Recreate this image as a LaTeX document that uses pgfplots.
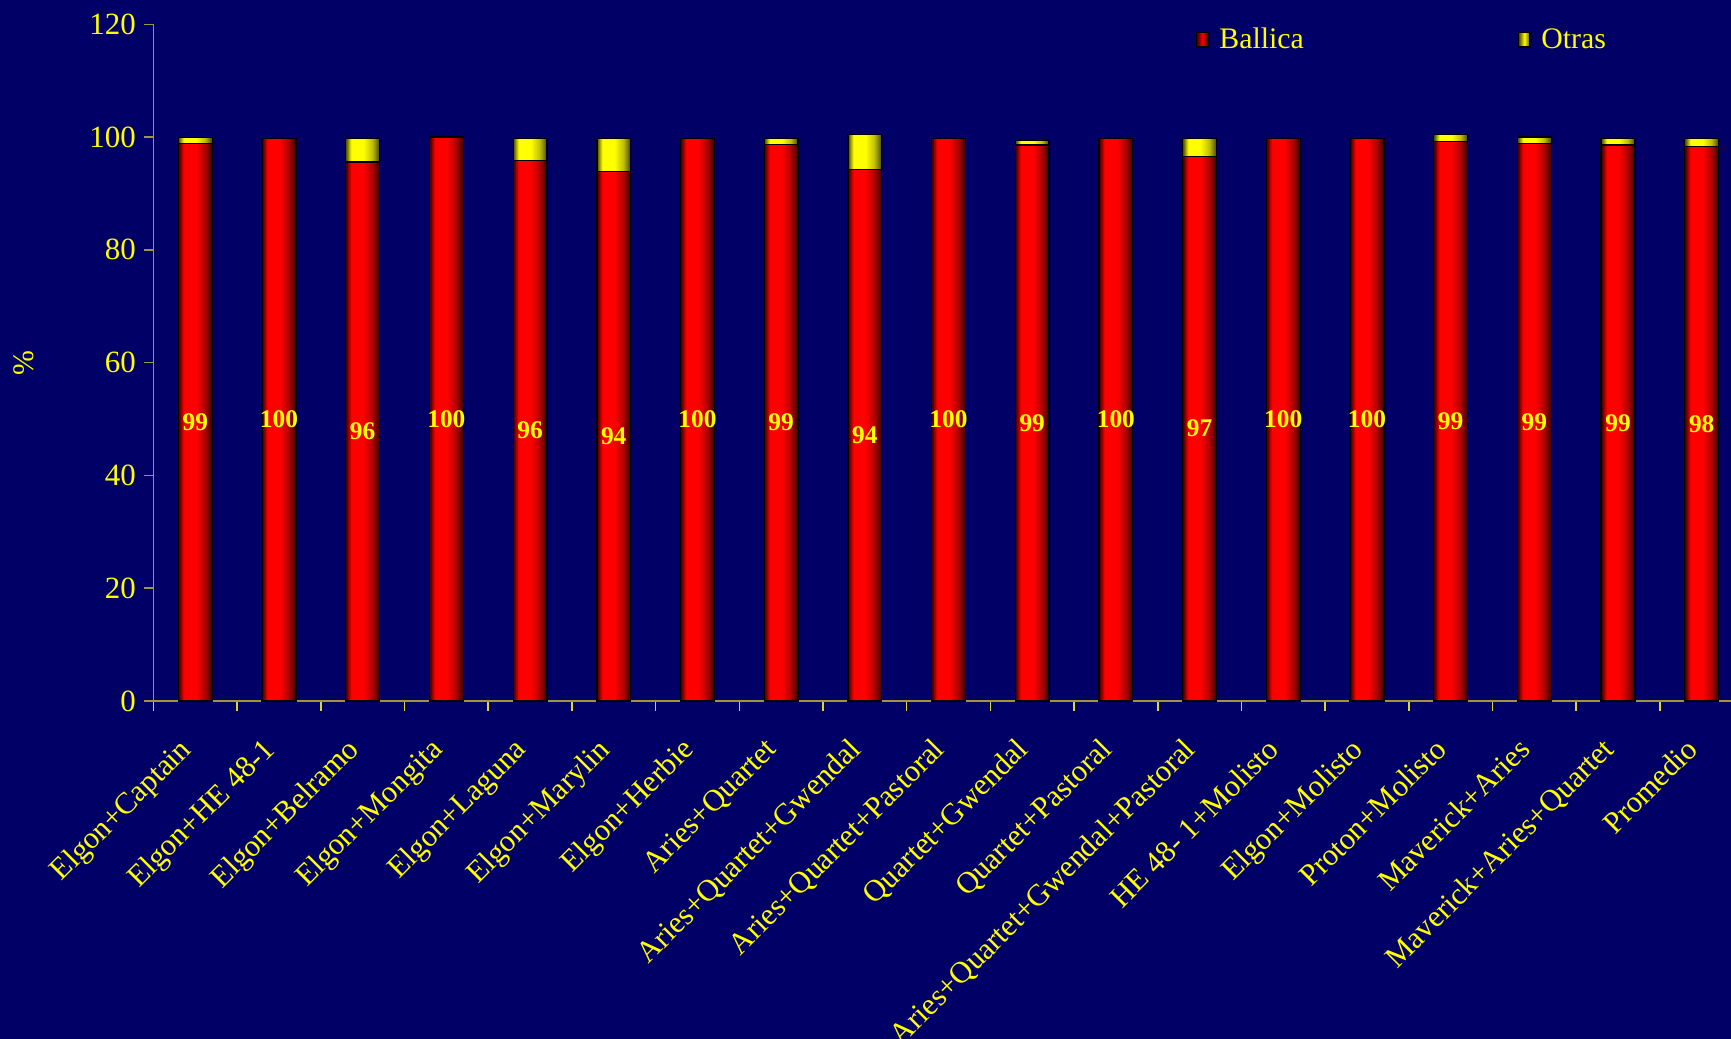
\documentclass[border=0pt]{standalone}
\usepackage{pgfplots}
\pgfplotsset{compat=1.18}
\usepackage{pgfplotstable}
\usepackage{fontspec}
\setmainfont{Liberation Serif}
\definecolor{bgnavy}{RGB}{0,0,102}
\definecolor{ylw}{RGB}{255,255,0}
\definecolor{axiscol}{RGB}{160,150,60}
\definecolor{xtickcol}{RGB}{220,215,40}
\definecolor{rdark}{RGB}{55,0,0}
\definecolor{rmid}{RGB}{175,0,0}
\definecolor{ydark}{RGB}{70,70,0}
\definecolor{ymid}{RGB}{190,190,0}
\pgfdeclarehorizontalshading{redbar}{100bp}{%
color(0bp)=(rdark);
color(25.0000bp)=(rdark); color(25.1792bp)=(red); color(25.5734bp)=(red); color(25.8601bp)=(rmid); color(26.0967bp)=(rdark);
color(27.7169bp)=(rdark); color(27.8961bp)=(red); color(28.2903bp)=(red); color(28.5770bp)=(rmid); color(28.8136bp)=(rdark);
color(30.4338bp)=(rdark); color(30.6130bp)=(red); color(31.0072bp)=(red); color(31.2939bp)=(rmid); color(31.5305bp)=(rdark);
color(33.1506bp)=(rdark); color(33.3298bp)=(red); color(33.7240bp)=(red); color(34.0107bp)=(rmid); color(34.2473bp)=(rdark);
color(35.8675bp)=(rdark); color(36.0467bp)=(red); color(36.4409bp)=(red); color(36.7276bp)=(rmid); color(36.9642bp)=(rdark);
color(38.5844bp)=(rdark); color(38.7636bp)=(red); color(39.1578bp)=(red); color(39.4445bp)=(rmid); color(39.6811bp)=(rdark);
color(41.3013bp)=(rdark); color(41.4805bp)=(red); color(41.8747bp)=(red); color(42.1614bp)=(rmid); color(42.3980bp)=(rdark);
color(44.0182bp)=(rdark); color(44.1974bp)=(red); color(44.5916bp)=(red); color(44.8783bp)=(rmid); color(45.1149bp)=(rdark);
color(46.7350bp)=(rdark); color(46.9142bp)=(red); color(47.3084bp)=(red); color(47.5951bp)=(rmid); color(47.8317bp)=(rdark);
color(49.4519bp)=(rdark); color(49.6311bp)=(red); color(50.0253bp)=(red); color(50.3120bp)=(rmid); color(50.5486bp)=(rdark);
color(52.1688bp)=(rdark); color(52.3480bp)=(red); color(52.7422bp)=(red); color(53.0289bp)=(rmid); color(53.2655bp)=(rdark);
color(54.8857bp)=(rdark); color(55.0649bp)=(red); color(55.4591bp)=(red); color(55.7458bp)=(rmid); color(55.9824bp)=(rdark);
color(57.6026bp)=(rdark); color(57.7818bp)=(red); color(58.1760bp)=(red); color(58.4627bp)=(rmid); color(58.6993bp)=(rdark);
color(60.3194bp)=(rdark); color(60.4986bp)=(red); color(60.8928bp)=(red); color(61.1795bp)=(rmid); color(61.4161bp)=(rdark);
color(63.0363bp)=(rdark); color(63.2155bp)=(red); color(63.6097bp)=(red); color(63.8964bp)=(rmid); color(64.1330bp)=(rdark);
color(65.7532bp)=(rdark); color(65.9324bp)=(red); color(66.3266bp)=(red); color(66.6133bp)=(rmid); color(66.8499bp)=(rdark);
color(68.4701bp)=(rdark); color(68.6493bp)=(red); color(69.0435bp)=(red); color(69.3302bp)=(rmid); color(69.5668bp)=(rdark);
color(71.1870bp)=(rdark); color(71.3662bp)=(red); color(71.7604bp)=(red); color(72.0471bp)=(rmid); color(72.2837bp)=(rdark);
color(73.9038bp)=(rdark); color(74.0830bp)=(red); color(74.4772bp)=(red); color(74.7639bp)=(rmid); color(75.0005bp)=(rdark);
color(100bp)=(rdark)}
\pgfdeclarehorizontalshading{ylwbar}{100bp}{%
color(0bp)=(ydark);
color(25.0000bp)=(ydark); color(25.1792bp)=(ylw); color(25.5734bp)=(ylw); color(25.8601bp)=(ymid); color(26.0967bp)=(ydark);
color(27.7169bp)=(ydark); color(27.8961bp)=(ylw); color(28.2903bp)=(ylw); color(28.5770bp)=(ymid); color(28.8136bp)=(ydark);
color(30.4338bp)=(ydark); color(30.6130bp)=(ylw); color(31.0072bp)=(ylw); color(31.2939bp)=(ymid); color(31.5305bp)=(ydark);
color(33.1506bp)=(ydark); color(33.3298bp)=(ylw); color(33.7240bp)=(ylw); color(34.0107bp)=(ymid); color(34.2473bp)=(ydark);
color(35.8675bp)=(ydark); color(36.0467bp)=(ylw); color(36.4409bp)=(ylw); color(36.7276bp)=(ymid); color(36.9642bp)=(ydark);
color(38.5844bp)=(ydark); color(38.7636bp)=(ylw); color(39.1578bp)=(ylw); color(39.4445bp)=(ymid); color(39.6811bp)=(ydark);
color(41.3013bp)=(ydark); color(41.4805bp)=(ylw); color(41.8747bp)=(ylw); color(42.1614bp)=(ymid); color(42.3980bp)=(ydark);
color(44.0182bp)=(ydark); color(44.1974bp)=(ylw); color(44.5916bp)=(ylw); color(44.8783bp)=(ymid); color(45.1149bp)=(ydark);
color(46.7350bp)=(ydark); color(46.9142bp)=(ylw); color(47.3084bp)=(ylw); color(47.5951bp)=(ymid); color(47.8317bp)=(ydark);
color(49.4519bp)=(ydark); color(49.6311bp)=(ylw); color(50.0253bp)=(ylw); color(50.3120bp)=(ymid); color(50.5486bp)=(ydark);
color(52.1688bp)=(ydark); color(52.3480bp)=(ylw); color(52.7422bp)=(ylw); color(53.0289bp)=(ymid); color(53.2655bp)=(ydark);
color(54.8857bp)=(ydark); color(55.0649bp)=(ylw); color(55.4591bp)=(ylw); color(55.7458bp)=(ymid); color(55.9824bp)=(ydark);
color(57.6026bp)=(ydark); color(57.7818bp)=(ylw); color(58.1760bp)=(ylw); color(58.4627bp)=(ymid); color(58.6993bp)=(ydark);
color(60.3194bp)=(ydark); color(60.4986bp)=(ylw); color(60.8928bp)=(ylw); color(61.1795bp)=(ymid); color(61.4161bp)=(ydark);
color(63.0363bp)=(ydark); color(63.2155bp)=(ylw); color(63.6097bp)=(ylw); color(63.8964bp)=(ymid); color(64.1330bp)=(ydark);
color(65.7532bp)=(ydark); color(65.9324bp)=(ylw); color(66.3266bp)=(ylw); color(66.6133bp)=(ymid); color(66.8499bp)=(ydark);
color(68.4701bp)=(ydark); color(68.6493bp)=(ylw); color(69.0435bp)=(ylw); color(69.3302bp)=(ymid); color(69.5668bp)=(ydark);
color(71.1870bp)=(ydark); color(71.3662bp)=(ylw); color(71.7604bp)=(ylw); color(72.0471bp)=(ymid); color(72.2837bp)=(ydark);
color(73.9038bp)=(ydark); color(74.0830bp)=(ylw); color(74.4772bp)=(ylw); color(74.7639bp)=(ymid); color(75.0005bp)=(ydark);
color(100bp)=(ydark)}

\pgfplotstableread{
x b o
0 98.9 1.0
1 99.8 0.0
2 95.6 4.2
3 100.0 0.0
4 95.9 3.9
5 93.9 5.9
6 99.8 0.0
7 98.7 1.1
8 94.2 6.2
9 99.8 0.0
10 98.6 0.8
11 99.8 0.0
12 96.6 3.2
13 99.8 0.0
14 99.8 0.0
15 99.2 1.2
16 98.9 1.1
17 98.6 1.2
18 98.3 1.5
}\datatable

\begin{document}
\begin{tikzpicture}
\fill[bgnavy] (-69.5pt,-153pt) rectangle (714.5pt,317.5pt);
\begin{axis}[
  scale only axis,
  width=714.5pt, height=306.5pt,
  ybar stacked, bar width=15.3pt,
  xmin=-0.5, xmax=18.35, ymin=0, ymax=120,
  axis x line*=bottom, axis y line*=left,
  axis line style={draw=axiscol, line width=0.7pt},
  tick style={draw=axiscol, line width=0.7pt},
  tick align=outside,
  major tick length=4.5pt, minor tick length=4.5pt,
  xtick={0,1,...,18},
  major x tick style={draw=none},
  minor x tick style={draw=xtickcol},
  minor xtick={-0.5,0.5,...,17.5},
  xticklabels={Elgon+Captain,Elgon+HE 48-1,Elgon+Belramo,Elgon+Mongita,Elgon+Laguna,Elgon+Marylin,Elgon+Herbie,Aries+Quartet,Aries+Quartet+Gwendal,Aries+Quartet+Pastoral,Quartet+Gwendal,Quartet+Pastoral,Aries+Quartet+Gwendal+Pastoral,HE 48- 1+Molisto,Elgon+Molisto,Proton+Molisto,Maverick+Aries,Maverick+Aries+Quartet,Promedio},
  x tick label style={xshift=-8pt, yshift=-6.5pt, rotate=45, anchor=north east, text=ylw, font=\fontsize{13.8}{16}\selectfont},
  ytick={0,20,...,120},
  y tick label style={text=ylw, font=\fontsize{14}{16}\selectfont},
  /pgf/number format/assume math mode=true,
  ylabel={\%},
  ylabel style={at={(axis description cs:-0.082,0.5)}, anchor=center, text=ylw, font=\fontsize{13.5}{16}\selectfont},
  legend columns=2,
  legend style={draw=none, fill=none, inner sep=0pt, at={(0.6606,0.977)}, anchor=west,
    text=ylw, font=\fontsize{13.5}{16}\selectfont,
    /tikz/every even column/.append style={column sep=95pt}},
  every node near coord/.append style={anchor=center, text=ylw, font=\bfseries\fontsize{11.5}{13}\selectfont},
]
\addplot[draw=black, line width=0.6pt, shade, shading=redbar,
  point meta=explicit,
  nodes near coords={\pgfmathprintnumber[fixed,precision=0]{\pgfplotspointmeta}},
  legend image code/.code={\draw[black, line width=0.6pt, left color=rdark, right color=rdark, middle color=red] (0pt,-3.3pt) rectangle (5.2pt,3.3pt); \path (8pt,0pt);}
] table[x=x, y=b, meta=b] {\datatable};
\addlegendentry{Ballica}
\addplot[draw=black, line width=0.6pt, shade, shading=ylwbar,
  legend image code/.code={\draw[black, line width=0.6pt, left color=ydark, right color=ydark, middle color=ylw] (0pt,-3.3pt) rectangle (5.2pt,3.3pt); \path (8pt,0pt);}
] table[x=x, y=o] {\datatable};
\addlegendentry{Otras}
\end{axis}
\pgfresetboundingbox
\path[use as bounding box] (-69.5pt,-153pt) rectangle (714.5pt,317.5pt);
\end{tikzpicture}
\end{document}
